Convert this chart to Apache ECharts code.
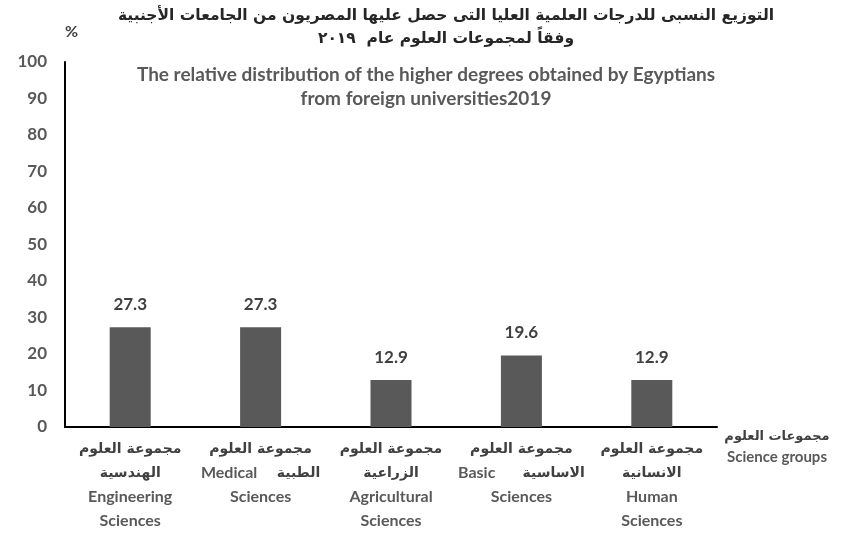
<!DOCTYPE html>
<html><head><meta charset="utf-8">
<script src="https://cdn.jsdelivr.net/npm/echarts@6/dist/echarts.min.js"></script>
<style>html,body{margin:0;padding:0;background:#fff}#c{width:843px;height:535px}</style>
</head><body><div id="c"></div>
<script>
const categories = [
  "مجموعة العلوم\nالهندسية\nEngineering\nSciences",
  "مجموعة العلوم\nMedical     الطبية\nSciences",
  "مجموعة العلوم\nالزراعية\nAgricultural\nSciences",
  "مجموعة العلوم\nBasic       الاساسية\nSciences",
  "مجموعة العلوم\nالانسانية\nHuman\nSciences"
];
const values = [27.3, 27.3, 12.9, 19.6, 12.9];
const yTicks = [0, 10, 20, 30, 40, 50, 60, 70, 80, 90, 100];
const titleAr = "التوزيع النسبى للدرجات العلمية العليا التى حصل عليها المصريون من الجامعات الأجنبية\nوفقاً لمجموعات العلوم عام  ٢٠١٩";
const titleEn = "The relative distribution of the higher degrees obtained by Egyptians\nfrom foreign universities2019";
const xName = "مجموعات العلوم\nScience groups";
const yName = "%";

const FONT = "Lato, 'DejaVu Sans', sans-serif";
const AR = /[\u0600-\u06FF]/;
// wrap Arabic runs and Latin runs in separate rich styles
function richify(s) {
  return s.split('\n').map(line => {
    const parts = line.match(/[\u0600-\u06FF][\u0600-\u06FF ]*[\u0600-\u06FF]|[\u0600-\u06FF]|[^\u0600-\u06FF]+/g) || [];
    return parts.map(p => AR.test(p) ? '{ar|' + p + '}' : '{en|' + p + '}').join('');
  }).join('\n');
}
const chart = echarts.init(document.getElementById('c'));
chart.setOption({
  animation: false,
  title: [
    {text: titleAr, left: 441, top: -1, textAlign: 'center',
     textStyle: {fontFamily: "'DejaVu Sans', sans-serif", fontWeight: 'bold', fontSize: 15.5, color: '#262626', lineHeight: 23}},
    {text: titleEn, left: 421, top: 58, textAlign: 'center',
     textStyle: {fontFamily: FONT, fontWeight: 'bold', fontSize: 19, color: '#595959', lineHeight: 24}}
  ],
  grid: {left: 65, right: 126, top: 62, bottom: 108, containLabel: false},
  xAxis: {
    type: 'category', data: categories,
    name: richify(xName), nameLocation: 'end', nameGap: 60,
    nameTextStyle: {align: 'center', verticalAlign: 'top', padding: [0, 0, 0, 0],
      rich: {
        ar: {fontFamily: "'DejaVu Sans', sans-serif", fontWeight: 'bold', fontSize: 13, color: '#404040', lineHeight: 20},
        en: {fontFamily: FONT, fontWeight: 'bold', fontSize: 15, color: '#595959', lineHeight: 20}
      }},
    axisLine: {lineStyle: {color: '#000', width: 2}},
    axisTick: {show: false},
    axisLabel: {interval: 0, margin: 10, formatter: v => richify(v),
      rich: {
        ar: {fontFamily: "'DejaVu Sans', sans-serif", fontWeight: 'bold', fontSize: 14, color: '#404040', lineHeight: 24},
        en: {fontFamily: FONT, fontWeight: 'bold', fontSize: 16, color: '#595959', lineHeight: 24}
      }}
  },
  yAxis: {
    type: 'value', min: 0, max: 100, interval: 10,
    name: yName, nameLocation: 'end', nameGap: 22,
    nameTextStyle: {fontFamily: FONT, fontWeight: 'bold', fontSize: 16, color: '#404040', align: 'left', padding: [0, 0, 0, 0]},
    axisLine: {show: true, lineStyle: {color: '#000', width: 2}},
    axisTick: {show: false},
    splitLine: {show: false},
    axisLabel: {margin: 18, fontFamily: FONT, fontWeight: 'bold', fontSize: 17, color: '#595959',
      formatter: v => yTicks.includes(v) ? String(v) : ''}
  },
  series: [{
    type: 'bar', data: values, barWidth: 41,
    itemStyle: {color: '#595959'},
    label: {show: true, position: 'top', distance: 14, fontFamily: FONT, fontWeight: 'bold', fontSize: 17, color: '#404040',
      formatter: p => p.value.toFixed(1)}
  }]
});
</script></body></html>
